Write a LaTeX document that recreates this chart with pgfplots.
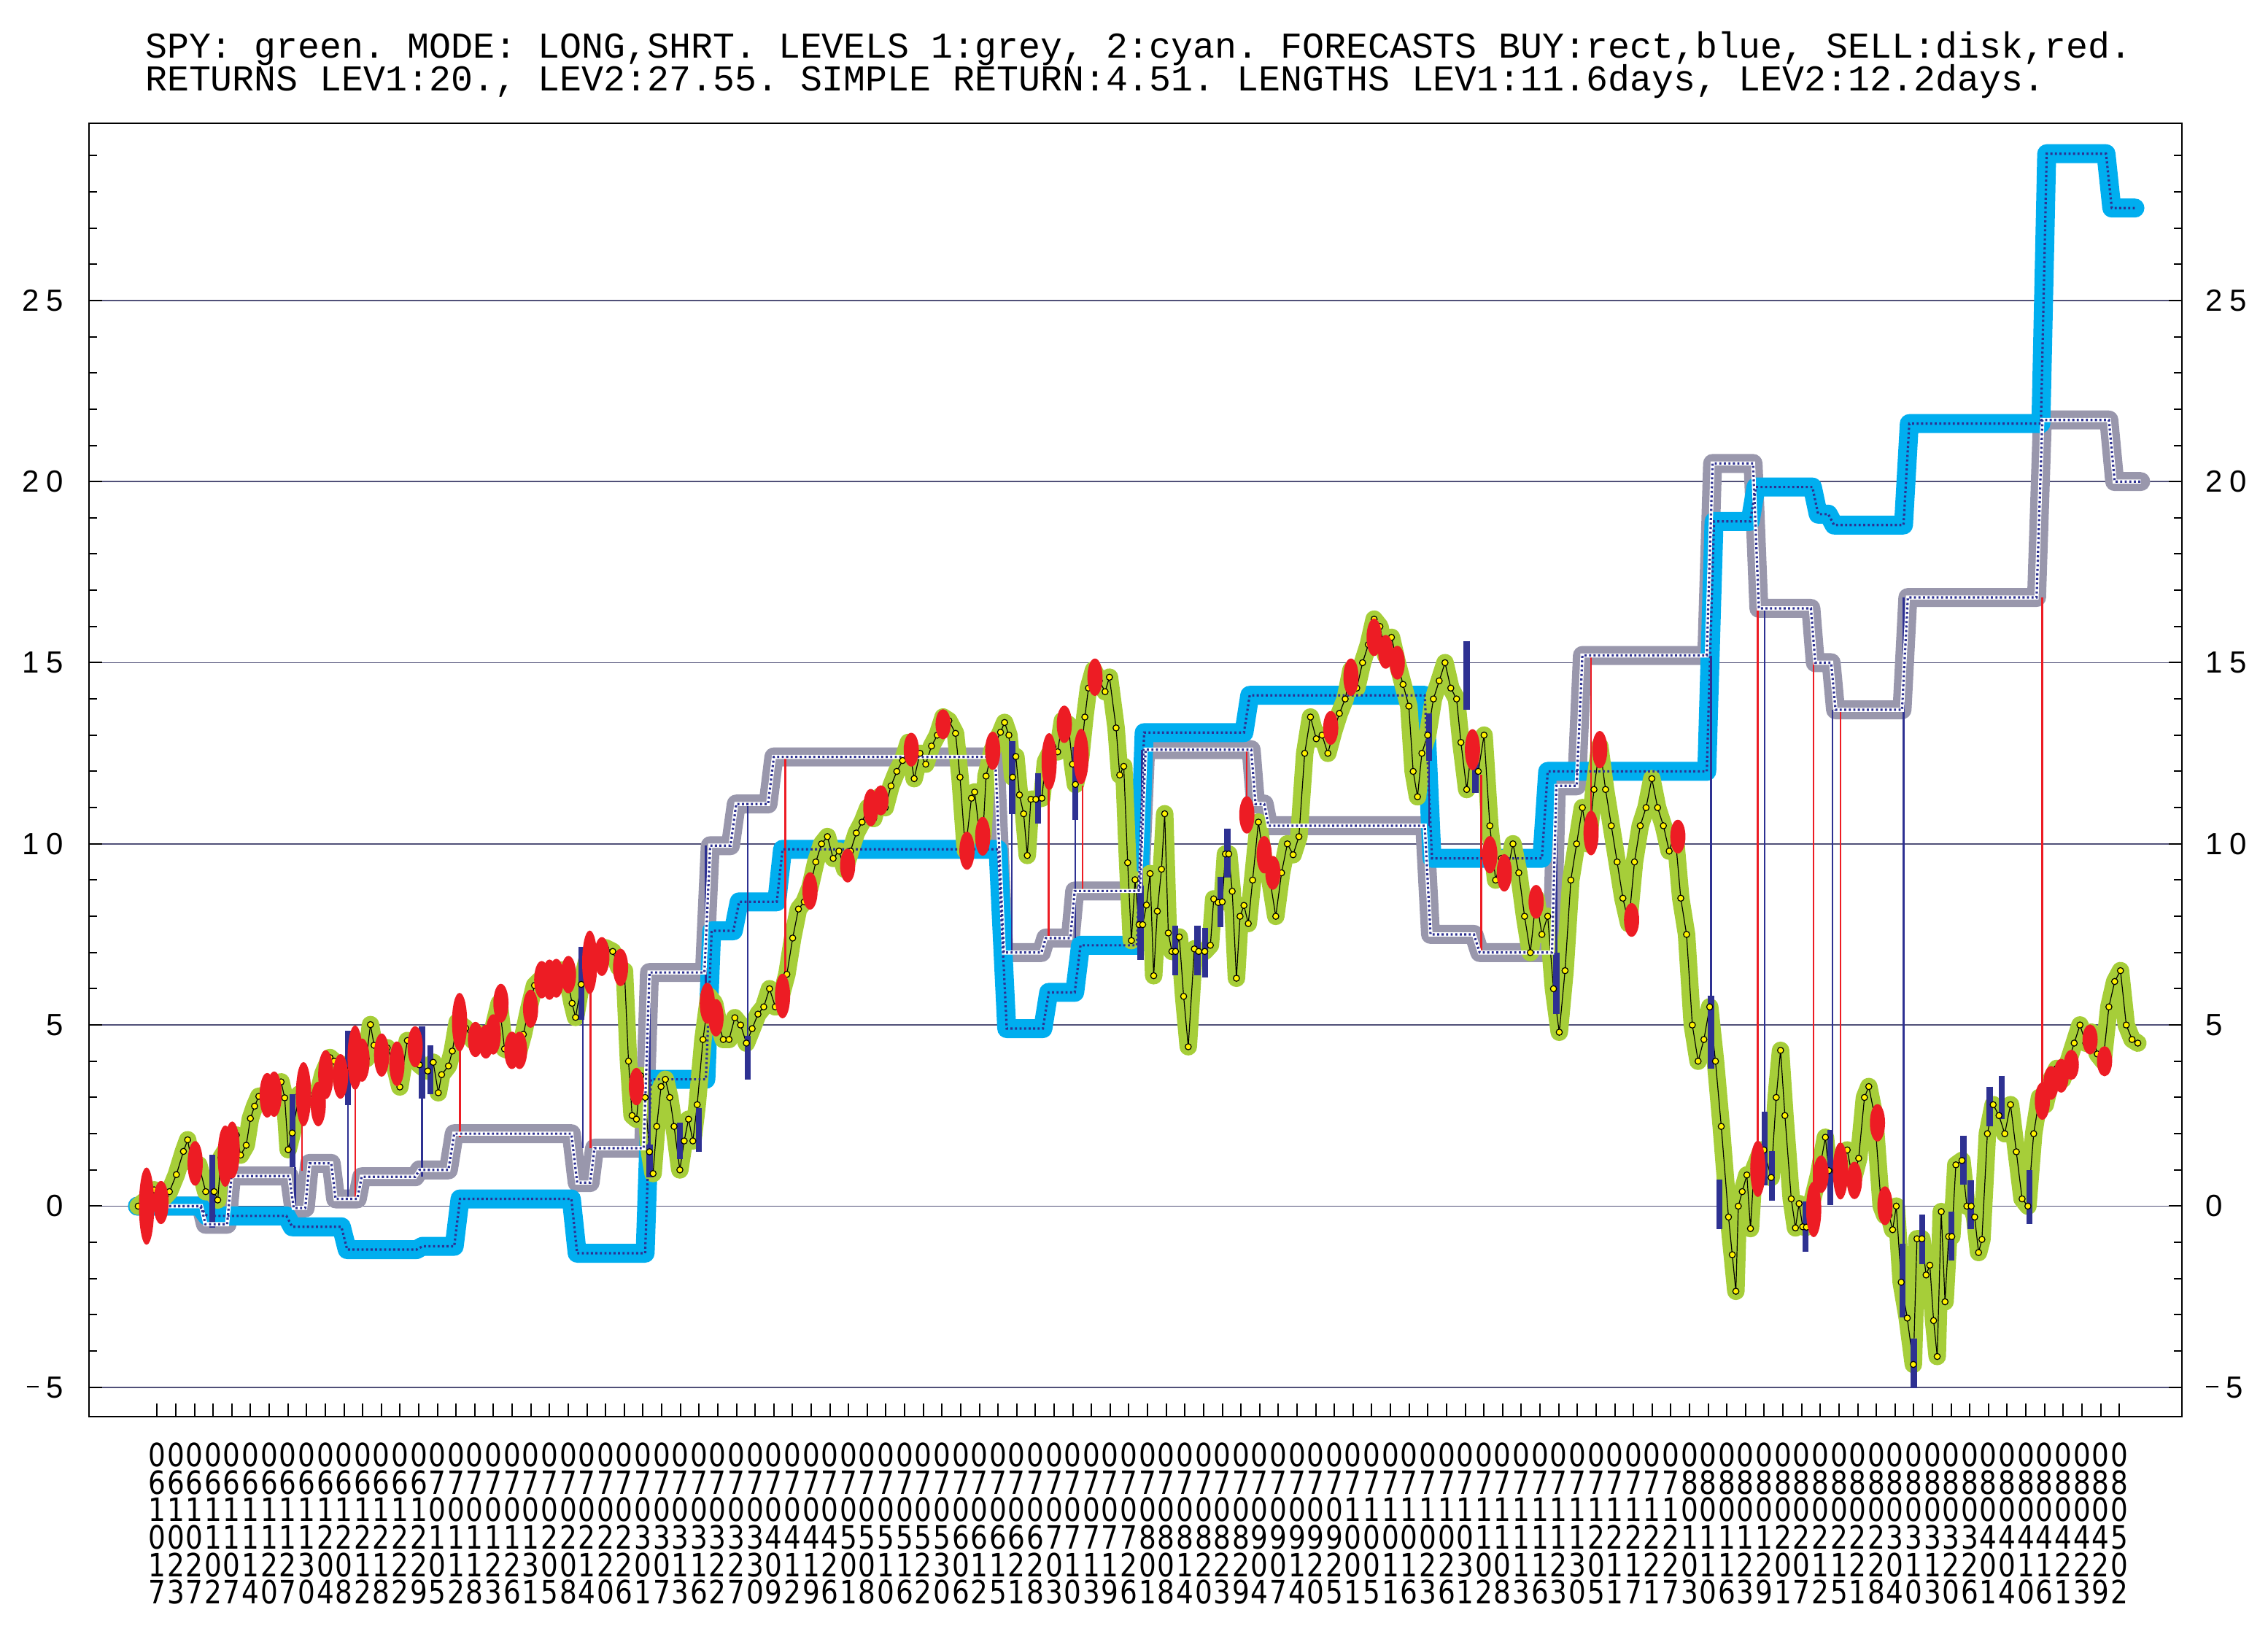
\documentclass[border=0pt]{standalone}
\usepackage{fontspec}
\usepackage{pgfplots}
\usepackage{pgfplotstable}
\pgfplotsset{compat=1.18}
\setmainfont{Liberation Sans}
\newfontfamily\titlefont{Liberation Mono}
\newfontfamily\xlabfont[FakeStretch=0.85]{DejaVu Sans}
\newfontfamily\ylabfont{Liberation Sans}
\definecolor{spygreen}{RGB}{166,206,57}
\definecolor{levone}{RGB}{153,151,172}
\definecolor{levtwo}{RGB}{0,174,239}
\definecolor{sellred}{RGB}{237,28,36}
\definecolor{buyblue}{RGB}{46,49,146}
\definecolor{dotyel}{RGB}{255,242,0}
\definecolor{gridc}{RGB}{80,80,120}
\def\dstk#1#2#3#4#5#6{\vbox{\baselineskip=9.42bp\lineskiplimit=-100bp\lineskip=0pt\hbox{#1}\hbox{#2}\hbox{#3}\hbox{#4}\hbox{#5}\hbox{#6}}}
\newcommand\ysp{\kern2.4bp}
\newcommand\yminus{\rule[3.4bp]{4.2bp}{0.6bp}\kern2.6bp}

\pgfplotstableread{
x y
95.5 0.00
104 0.27
106.5 0.45
109.4 0.13
114.2 0.27
117.1 0.40
121.9 0.87
126.8 1.51
129.7 1.83
132.5 1.21
137.4 1.14
142.2 0.40
148 0.40
150.5 0.17
152.8 1.34
158.6 1.71
163.4 1.96
166.3 1.41
170.2 1.68
173.1 2.42
176 2.76
178.9 3.03
187.6 3.09
191.4 3.19
194.3 3.43
196.8 2.99
199.2 1.56
202 2.02
206.9 3.09
212.7 3.13
218.5 2.89
223.3 3.66
228.1 4.10
231 4.00
233.9 3.60
238.7 3.76
244.5 4.07
249.3 4.00
253.2 4.07
256.1 5.01
258.6 4.44
261.9 4.17
267.7 4.37
272.5 3.93
276.4 3.29
281.6 4.57
285.8 4.32
289.9 3.90
295.7 3.73
299.5 3.97
303 3.13
305.3 3.63
310 3.87
312.7 4.28
316.1 5.08
322 4.91
327 4.57
330.8 4.77
334.9 4.44
340 4.76
345.1 5.6
348.8 4.34
353.9 4.26
358.1 4.2
361.8 4.74
365.6 5.45
369.5 6.09
373.2 6.24
379.9 6.28
384.1 6.29
387.5 6.52
391.7 6.39
395.5 5.6
397.9 5.21
401.8 6.12
406 6.83
411 6.94
415.2 6.89
418.6 7.13
423.6 7.03
427.8 6.59
431.7 6.49
434.5 4.0
437 2.5
440 2.4
443 3.6
446 3.0
449 1.5
451.5 0.9
454 2.2
457 3.3
460 3.5
463 3.0
466 2.2
470 1.0
473 1.8
476 2.4
479 1.8
482 2.8
486 4.6
490 5.8
494 5.6
497 5.0
500 4.6
504 4.6
508 5.2
512 5.0
516 4.5
520 4.9
524 5.3
528 5.5
532 6.0
536 5.5
540 5.8
544 6.4
548 7.4
552 8.2
556 8.4
560 8.8
564 9.5
568 10.0
572 10.2
576 9.6
580 9.8
584 9.3
588 9.8
592 10.3
596 10.6
600 11.0
604 10.7
608 11.3
612 11.0
616 11.6
620 12.0
624 12.3
628 12.8
632 11.8
636 12.5
640 12.2
644 12.7
648 13.0
652 13.5
656 13.4
660.6 13.05
663.7 11.84
667.4 9.82
671.6 11.26
673.8 11.43
677.4 10.22
679.5 10.22
681.7 11.87
685.9 12.58
691.7 13.08
694.5 13.35
697.5 13.0
700.1 11.84
702.3 12.41
704.8 11.35
707.7 10.83
710.2 9.68
712.7 11.23
716.1 11.23
720.3 11.26
722.8 12.27
727.9 12.68
731.2 12.54
734.5 13.4
738.5 13.3
741.5 12.2
743.5 11.64
747.2 12.41
750 13.5
752.5 14.3
756 14.8
760 14.5
764 14.2
767 14.6
771.6 13.2
774.1 11.9
776.9 12.14
779.6 9.48
782.2 7.33
784.7 9.01
787.5 7.77
790 7.77
792.6 8.31
795.1 9.18
797.6 6.36
800.1 8.14
803 9.30
805.2 10.83
807.7 7.54
810.2 7.03
812.7 7.03
815.3 7.43
818.3 5.79
821.5 4.4
825.7 7.1
828.7 7.03
832.9 7.03
836.8 7.2
839.1 8.48
842.2 8.38
845 8.4
847.2 9.72
849.5 9.72
851.9 8.69
854.8 6.29
857.3 8.0
860 8.3
863 7.8
866 9.0
870 10.6
874 9.5
878 9.0
882 8.0
886 9.2
890 10.0
894 9.7
898 10.2
902 12.5
906 13.5
910 12.9
914 13.0
918 12.5
922 13.1
926 13.6
930 14.0
934 14.8
938 14.3
942 15.0
946 15.5
950 16.2
954 16.0
958 15.2
962 15.7
966 15.0
970 14.4
974 13.8
977 12.0
980 11.3
983 12.5
987 13.0
991 14.0
995 14.5
999 15.0
1003 14.3
1007 14.0
1010 12.8
1014 11.5
1018 12.8
1022 12.0
1026 13.0
1030 10.5
1034 9.0
1038 9.6
1042 9.2
1046 10.0
1050 9.2
1054 8.0
1058 7.0
1062 8.5
1066 7.5
1070 8.0
1074 6.0
1078 4.8
1082 6.5
1086 9.0
1090 10.0
1094 11.0
1098 10.0
1102 11.5
1106 12.7
1110 11.5
1114 10.5
1118 9.5
1122 8.5
1126 7.8
1130 9.5
1134 10.5
1138 11.0
1142 11.8
1146 11.0
1150 10.5
1154 9.8
1158 10.3
1162 8.5
1166 7.5
1170 5.0
1174 4.0
1178 4.6
1182 5.5
1186 4.0
1190 2.2
1195 -0.3
1197.6 -1.34
1200.1 -2.35
1201.8 0.0
1204.5 0.4
1207.7 0.86
1210.2 -0.62
1212.7 1.04
1217.8 1.55
1219.5 1.55
1224.5 0.79
1228 3.0
1231 4.3
1234 2.5
1238.4 0.2
1241.3 -0.6
1243.8 0.07
1246.3 -0.57
1248.9 -0.58
1251.4 -0.09
1257.3 0.86
1262 1.9
1264.3 0.98
1269 0.97
1272.4 0.95
1274.9 1.24
1277.1 1.55
1281.1 0.71
1285 1.32
1289 3.0
1292 3.3
1296 2.5
1300.6 0.0
1303 -0.25
1306 -0.25
1308.5 -0.65
1311 0.0
1314.4 -2.1
1318.6 -3.09
1322.8 -4.37
1325.3 -0.9
1328.7 -0.9
1331.6 -1.9
1334.2 -1.63
1336.8 -3.16
1339.3 -4.15
1342.1 -0.15
1344.7 -2.64
1347.2 -0.84
1349.4 -0.84
1352.2 1.14
1356.4 1.26
1359.8 0.0
1362.8 0.0
1365.2 -0.3
1367.9 -1.28
1370.2 -0.92
1374 2.0
1378 2.8
1382 2.5
1386 2.0
1390 2.8
1394 1.5
1398 0.2
1402 0.0
1406 2.0
1410 3.0
1414 2.8
1418 3.5
1422 3.8
1426 3.5
1430 4.0
1434 4.5
1438 5.0
1442 4.5
1446 4.8
1450 4.2
1454 4.0
1458 5.5
1462 6.2
1466 6.5
1470 5.0
1474 4.6
1478 4.5
}\greendata

\pgfplotstableread{
x y
95 0
139 0
142 -0.5
157 -0.5
160 0.83
200 0.83
203 -0.05
211 -0.05
214 1.18
229 1.18
232 0.2
247 0.2
250 0.81
287 0.81
290 1.0
310 1.0
314 2.0
395 2.0
399 0.65
408 0.65
411 1.6
445 1.6
449 6.45
487 6.45
491 9.95
505 9.95
509 11.1
531 11.1
535 12.4
688 12.4
694 7.0
720 7.0
723 7.4
740 7.4
743 8.7
788 8.7
792 12.6
865 12.6
868 11.1
874 11.1
877 10.5
985 10.5
989 7.5
1019 7.5
1023 7.0
1073 7.0
1076 11.6
1090 11.6
1094 15.2
1180 15.2
1184 20.5
1212 20.5
1216 16.5
1252 16.5
1255 15.0
1266 15.0
1269 13.7
1315 13.7
1319 16.8
1408 16.8
1412 21.7
1458 21.7
1462 20.0
1480 20.0
}\greydata

\pgfplotstableread{
x y
95 0
138 0
143 -0.27
198 -0.27
202 -0.57
236 -0.57
240 -1.2
288 -1.2
292 -1.11
314 -1.11
318 0.2
395 0.2
399 -1.3
446 -1.3
450 3.5
488 3.5
492 7.6
507 7.6
511 8.4
537 8.4
541 9.85
690 9.85
696 4.9
721 4.9
725 5.9
743 5.9
747 7.2
786 7.2
791 13.07
860 13.07
864 14.1
985 14.1
990 9.6
1066 9.6
1070 12.0
1180 12.0
1185 18.9
1210 18.9
1214 19.85
1253 19.85
1257 19.1
1264 19.1
1268 18.8
1316 18.8
1320 21.6
1411 21.6
1415 29.05
1456 29.05
1460 27.55
1476 27.55
}\cyandata

\pgfplotstableread{
x y h
101.3 0 1.05
111.3 0.1 0.58
134.9 1.18 0.6
155.7 1.38 0.83
160.5 1.55 0.77
184.7 3.06 0.6
189.5 3.09 0.61
209.8 3.09 0.87
220 2.82 0.6
225.2 3.63 0.66
235.4 3.58 0.6
245.5 4.1 0.87
250.3 4.03 0.58
263.8 4.17 0.58
274.4 3.93 0.6
287 4.4 0.55
317.7 5.08 0.79
328.7 4.6 0.47
335.9 4.54 0.45
341 4.74 0.54
346.3 5.6 0.52
353.9 4.3 0.5
359.2 4.3 0.5
366.8 5.45 0.51
374.5 6.25 0.5
379.9 6.25 0.54
384.6 6.29 0.52
393 6.39 0.5
407.7 6.73 0.86
416.1 6.89 0.52
429 6.59 0.5
440 3.3 0.5
489 5.6 0.55
495 5.2 0.5
541 5.8 0.6
560 8.7 0.5
586 9.4 0.45
602 11.0 0.5
609 11.2 0.4
630 12.6 0.45
652 13.3 0.4
668.5 9.81 0.51
679.4 10.21 0.52
686.3 12.57 0.51
725.3 12.27 0.77
735.8 13.3 0.5
747.4 12.41 0.75
757 14.6 0.5
862 10.8 0.5
874 9.7 0.5
880 9.2 0.45
920 13.2 0.45
934 14.6 0.5
950 15.7 0.5
958 15.3 0.45
966 15.0 0.45
1018 12.6 0.55
1030 9.7 0.5
1040 9.2 0.5
1062 8.4 0.45
1100 10.3 0.6
1106 12.6 0.5
1128 7.9 0.45
1160 10.2 0.45
1215.3 1.03 0.76
1253.9 -0.09 0.75
1259 0.88 0.5
1272.4 0.97 0.77
1282.1 0.71 0.5
1298 2.3 0.5
1303.2 0.01 0.52
1412 2.9 0.5
1418 3.4 0.45
1425 3.6 0.45
1432 3.9 0.4
1445 4.6 0.4
1455 4.0 0.4
}\selldata

\begin{document}
\begin{tikzpicture}
\path[use as bounding box] (0,0) rectangle (777.25bp,560bp);
\node[anchor=base west, inner sep=0pt, font=\titlefont\fontsize{12.47bp}{12bp}\selectfont] at (49.6bp,540.2bp) {\frenchspacing SPY: green. MODE: LONG,SHRT. LEVELS 1:grey, 2:cyan. FORECASTS BUY:rect,blue, SELL:disk,red.};
\node[anchor=base west, inner sep=0pt, font=\titlefont\fontsize{12.47bp}{12bp}\selectfont] at (49.6bp,528.8bp) {\frenchspacing RETURNS LEV1:20., LEV2:27.55. SIMPLE RETURN:4.51. LENGTHS LEV1:11.6days, LEV2:12.2days.};
\begin{axis}[
  at={(30.5bp,74.5bp)}, anchor=south west, scale only axis,
  width=717.25bp, height=443.25bp,
  xmin=61.5, xmax=1508.5, ymin=-5.81, ymax=29.89,
  axis line style={black, line width=0.5bp},
  tick style={black, line width=0.5bp},
  tick align=inside,
  major tick length=4.5bp, minor tick length=2.75bp,
  xtick={108.6,121.52,...,1466},
  xtick pos=bottom,
  xticklabels={\dstk061017,\dstk061023,\dstk061027,\dstk061102,\dstk061107,\dstk061114,\dstk061120,\dstk061127,\dstk061130,\dstk061204,
  \dstk061208,\dstk061212,\dstk061218,\dstk061222,\dstk061229,\dstk070105,\dstk070112,\dstk070118,\dstk070123,\dstk070126,
  \dstk070131,\dstk070205,\dstk070208,\dstk070214,\dstk070220,\dstk070226,\dstk070301,\dstk070307,\dstk070313,\dstk070316,
  \dstk070322,\dstk070327,\dstk070330,\dstk070409,\dstk070412,\dstk070419,\dstk070426,\dstk070501,\dstk070508,\dstk070510,
  \dstk070516,\dstk070522,\dstk070530,\dstk070606,\dstk070612,\dstk070615,\dstk070621,\dstk070628,\dstk070703,\dstk070710,
  \dstk070713,\dstk070719,\dstk070726,\dstk070801,\dstk070808,\dstk070814,\dstk070820,\dstk070823,\dstk070829,\dstk070904,
  \dstk070907,\dstk070914,\dstk070920,\dstk070925,\dstk071001,\dstk071005,\dstk071011,\dstk071016,\dstk071023,\dstk071026,
  \dstk071031,\dstk071102,\dstk071108,\dstk071113,\dstk071116,\dstk071123,\dstk071130,\dstk071205,\dstk071211,\dstk071217,
  \dstk071221,\dstk071227,\dstk080103,\dstk080110,\dstk080116,\dstk080123,\dstk080129,\dstk080201,\dstk080207,\dstk080212,
  \dstk080215,\dstk080221,\dstk080228,\dstk080304,\dstk080310,\dstk080313,\dstk080320,\dstk080326,\dstk080401,\dstk080404,
  \dstk080410,\dstk080416,\dstk080421,\dstk080423,\dstk080429,\dstk080502},
  xticklabel style={anchor=north, inner sep=0pt, yshift=-8.75bp, font=\xlabfont\fontsize{11bp}{11bp}\selectfont},
  ytick={-5,0,5,10,15,20,25},
  yticklabels={\yminus5,0,5,1\ysp0,1\ysp5,2\ysp0,2\ysp5},
  minor ytick={-5,-4,...,29},
  ytick pos=both, yticklabel pos=left,
  yticklabel style={anchor=east, inner sep=0pt, xshift=-8.5bp, font=\ylabfont\fontsize{10.5bp}{12bp}\selectfont},
  ymajorgrids, grid style={gridc, line width=0.4bp},
]
% level 1 (grey) and level 2 (cyan)
\addplot[levone, line width=6.5bp, line cap=round, line join=round] table {\greydata};
\addplot[levtwo, line width=6.5bp, line cap=round, line join=round] table {\cyandata};
% SPY green band
\addplot[spygreen, line width=6bp, line cap=round, line join=round] table {\greendata};
\addplot[black, line width=0.3bp, mark=*, mark size=1.05bp, mark options={solid, fill=dotyel, draw=none}] table {\greendata};
% sell forecasts: red disks
\addplot[sellred, scatter, only marks, mark=*, mark size=2.4bp,
  scatter/use mapped color={draw=sellred, fill=sellred},
  visualization depends on={5.17*\thisrow{h} \as \hh},
  scatter/@pre marker code/.append style={/tikz/yscale=\hh}]
  table[x=x, y=y] {\selldata};
% buy forecasts: blue rects
\addplot[buyblue, line width=2.1bp, line cap=butt, unbounded coords=jump] coordinates {
(146.7,1.41)(146.7,-0.6)(146.7,nan)
(202.2,3.09)(202.2,1.08)(202.2,nan)
(240.6,4.84)(240.6,2.79)(240.6,nan)
(291.8,4.97)(291.8,2.96)(291.8,nan)
(297.6,4.44)(297.6,3.09)(297.6,nan)
(402,7.16)(402,5.14)(402,nan)
(449,1.7)(449,0.8)(449,nan)
(470,2.3)(470,1.3)(470,nan)
(483,2.7)(483,1.5)(483,nan)
(517,4.7)(517,3.5)(517,nan)
(699.7,12.84)(699.7,10.83)(699.7,nan)
(717.6,11.94)(717.6,10.56)(717.6,nan)
(743.5,12.68)(743.5,10.66)(743.5,nan)
(788.6,8.84)(788.6,6.8)(788.6,nan)
(812.6,7.75)(812.6,6.37)(812.6,nan)
(827.9,7.75)(827.9,6.37)(827.9,nan)
(833.3,7.69)(833.3,6.32)(833.3,nan)
(843.6,9.08)(843.6,7.7)(843.6,nan)
(848.6,10.42)(848.6,9.06)(848.6,nan)
(988,13.6)(988,12.3)(988,nan)
(1014,15.6)(1014,13.7)(1014,nan)
(1020,12.8)(1020,11.4)(1020,nan)
(1076,7.0)(1076,5.3)(1076,nan)
(1183,5.8)(1183,3.8)(1183,nan)
(1188.6,0.73)(1188.6,-0.64)(1188.6,nan)
(1220,2.6)(1220,0.57)(1220,nan)
(1225,1.51)(1225,0.14)(1225,nan)
(1248.2,0.12)(1248.2,-1.26)(1248.2,nan)
(1265.4,2.1)(1265.4,0.02)(1265.4,nan)
(1315.4,-1.03)(1315.4,-3.07)(1315.4,nan)
(1323.2,-3.65)(1323.2,-5.02)(1323.2,nan)
(1329,-0.23)(1329,-1.6)(1329,nan)
(1349.2,-0.16)(1349.2,-1.5)(1349.2,nan)
(1357.5,1.95)(1357.5,0.59)(1357.5,nan)
(1362.4,0.72)(1362.4,-0.63)(1362.4,nan)
(1375.5,3.3)(1375.5,2.2)(1375.5,nan)
(1384,3.6)(1384,2.4)(1384,nan)
(1403,1.0)(1403,-0.5)
};
% thin connector lines
\addplot[buyblue, line width=0.6bp, unbounded coords=jump] coordinates {
(204,1.08)(204,-0.05)(204,nan)
(240.6,2.79)(240.6,0.2)(240.6,nan)
(291.8,2.96)(291.8,0.81)(291.8,nan)
(403,5.14)(403,1.6)(403,nan)
(449,6.45)(449,1.7)(449,nan)
(488,9.95)(488,5.6)(488,nan)
(517,11.1)(517,4.7)(517,nan)
(699.6,10.83)(699.6,6.96)(699.6,nan)
(743.3,10.66)(743.3,7.4)(743.3,nan)
(789.5,12.6)(789.5,8.84)(789.5,nan)
(988,10.5)(988,12.3)(988,nan)
(1076,11.6)(1076,7.0)(1076,nan)
(1183,15.2)(1183,5.8)(1183,nan)
(1220,16.5)(1220,2.6)(1220,nan)
(1267,13.7)(1267,2.1)(1267,nan)
(1316,16.8)(1316,-1.03)
};
\addplot[sellred, line width=0.6bp, unbounded coords=jump] coordinates {
(208.8,2.42)(208.8,0.97)(208.8,nan)
(245.5,3.36)(245.5,0.2)(245.5,nan)
(317.9,4.44)(317.9,1.9)(317.9,nan)
(408.2,5.9)(408.2,1.6)(408.2,nan)
(543,12.4)(543,5.9)(543,nan)
(725,11.5)(725,7.4)(725,nan)
(748.5,11.6)(748.5,8.7)(748.5,nan)
(862,12.6)(862,10.8)(862,nan)
(1024,11.9)(1024,7.0)(1024,nan)
(1100,15.2)(1100,10.8)(1100,nan)
(1215.3,16.5)(1215.3,1.8)(1215.3,nan)
(1253.9,15.0)(1253.9,0.66)(1253.9,nan)
(1272.4,13.7)(1272.4,1.74)(1272.4,nan)
(1412,16.8)(1412,3.4)
};
% exact level lines with daily dots
\addplot[white, line width=1.4bp] table {\greydata};
\addplot[buyblue, line width=0.8bp, dash pattern=on 0.7bp off 0.85bp] table {\greydata};
\addplot[buyblue, line width=0.8bp, dash pattern=on 0.7bp off 0.85bp] table {\cyandata};
\end{axis}
\begin{axis}[
  at={(30.5bp,74.5bp)}, anchor=south west, scale only axis,
  width=717.25bp, height=443.25bp,
  xmin=61.5, xmax=1508.5, ymin=-5.81, ymax=29.89,
  axis line style={draw=none}, tick style={draw=none},
  xtick=\empty,
  ytick={-5,0,5,10,15,20,25},
  yticklabels={\yminus5,0,5,1\ysp0,1\ysp5,2\ysp0,2\ysp5},
  ytick pos=right, yticklabel pos=right,
  yticklabel style={anchor=west, inner sep=0pt, xshift=8bp, font=\ylabfont\fontsize{10.5bp}{12bp}\selectfont},
]
\addplot[draw=none] coordinates {(100,0)};
\end{axis}
\end{tikzpicture}
\end{document}
